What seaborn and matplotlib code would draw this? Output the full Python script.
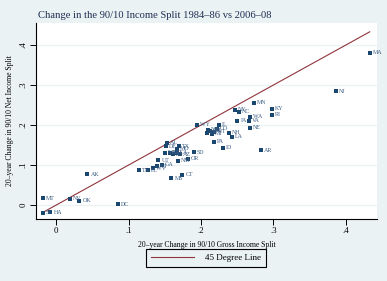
import matplotlib
matplotlib.use("Agg")
import matplotlib.pyplot as plt
import seaborn as sns
import pandas as pd
from matplotlib.lines import Line2D

states = ["MA", "NJ", "MN", "KY", "RI", "WA", "VA", "IA", "NE", "NY", "NC",
          "IL", "WY", "CO", "NH", "LA", "IN", "OH", "MI", "WI", "ND",
          "PA", "ID", "AR", "SD", "OR", "NM", "UT", "AL", "DE", "TX", "MO",
          "ME", "MD", "KS", "CA", "AZ", "GA", "TN", "FL", "WV", "VT",
          "CT", "MS", "DC", "AK", "MT", "NV", "OK", "SC", "HA"]
gross_change = [0.433, 0.386, 0.273, 0.298, 0.298, 0.268, 0.266, 0.250, 0.268, 0.247, 0.252,
                0.225, 0.194, 0.222, 0.239, 0.243, 0.208, 0.212, 0.215, 0.218, 0.210,
                0.218, 0.230, 0.283, 0.190, 0.182, 0.168, 0.141, 0.153, 0.152, 0.170, 0.167,
                0.150, 0.157, 0.161, 0.167, 0.171, 0.146, 0.114, 0.127, 0.134, 0.139,
                0.174, 0.159, 0.0855, 0.043, -0.019, 0.019, 0.032, -0.019, -0.008]
net_change = [0.380, 0.285, 0.255, 0.240, 0.225, 0.220, 0.210, 0.210, 0.193, 0.238, 0.233,
              0.200, 0.200, 0.190, 0.180, 0.170, 0.180, 0.185, 0.178, 0.183, 0.188,
              0.158, 0.143, 0.1375, 0.1325, 0.115, 0.110, 0.1125, 0.155, 0.1475, 0.1475, 0.140,
              0.130, 0.130, 0.1275, 0.130, 0.1275, 0.100, 0.0875, 0.0875, 0.0925, 0.0975,
              0.075, 0.0675, 0.0025, 0.0775, 0.0175, 0.015, 0.010, -0.020, -0.0175]
x_ticks = [0, 0.1, 0.2, 0.3, 0.4]
x_tick_labels = ["0", ".1", ".2", ".3", ".4"]
y_ticks = [0, 0.1, 0.2, 0.3, 0.4]
y_tick_labels = ["0", ".1", ".2", ".3", ".4"]

df = pd.DataFrame({"state": states, "gross": gross_change, "net": net_change})
lo, hi = min(gross_change), max(gross_change)
line_df = pd.DataFrame({"x": [lo, hi], "y": [lo, hi]})

BG = "#eaf2f3"
NAVY = "#1a476f"
MAROON = "#90353b"
SERIF = ["Liberation Serif", "DejaVu Serif"]

plt.rcParams["font.family"] = SERIF

fig = plt.figure(figsize=(3.87, 2.81), dpi=100, facecolor=BG)
ax = fig.add_axes([36 / 387, 1 - 219 / 281, (377 - 36) / 387, (219 - 23) / 281])
ax.set_facecolor("white")

for yt in y_ticks:
    ax.axhline(yt, color=BG, lw=0.9, zorder=0)

sns.lineplot(data=line_df, x="x", y="y", ax=ax, color=MAROON, lw=0.8, zorder=2)
sns.scatterplot(data=df, x="gross", y="net", ax=ax, marker="s", s=7,
                color=NAVY, edgecolor=NAVY, linewidth=0, zorder=3)
for s, xv, yv in zip(states, gross_change, net_change):
    ax.annotate(s, (xv, yv), xytext=(2.2, 0), textcoords="offset points",
                fontsize=4.3, color="#3d5f86", va="center", ha="left", zorder=4)

ax.set_xlim(-0.028, 0.443)
ax.set_ylim(-0.035, 0.455)
ax.set_xticks(x_ticks)
ax.set_xticklabels(x_tick_labels)
ax.set_yticks(y_ticks)
ax.set_yticklabels(y_tick_labels, rotation=90, va="center")
ax.tick_params(axis="both", labelsize=6.3, length=4, width=0.7, colors="black", pad=2)
for side in ["top", "right"]:
    ax.spines[side].set_visible(False)
for side in ["left", "bottom"]:
    ax.spines[side].set_linewidth(0.8)
    ax.spines[side].set_color("black")

ax.set_xlabel("20\u2013year Change in 90/10 Gross Income Split", fontsize=5.5, labelpad=4)
ax.set_ylabel("20\u2013year Change in 90/10 Net Income Split", fontsize=5.5, labelpad=4)

fig.text(38 / 387, 1 - 15 / 281, "Change in the 90/10 Income Split 1984\u201386 vs 2006\u201308",
         fontsize=7.6, color="#1e2d53", ha="left", va="center")

handle = Line2D([], [], color=MAROON, lw=0.8)
leg = fig.legend([handle], ["45 Degree Line"], loc="center",
                 bbox_to_anchor=(206 / 387, 1 - 258 / 281), fontsize=6.5,
                 frameon=True, fancybox=False, edgecolor="black", facecolor=BG,
                 framealpha=1, handlelength=4.8, borderpad=0.5, handletextpad=1.2,
                 borderaxespad=0)
leg.get_frame().set_linewidth(0.8)

fig.savefig("out.png", dpi=100, facecolor=BG)
